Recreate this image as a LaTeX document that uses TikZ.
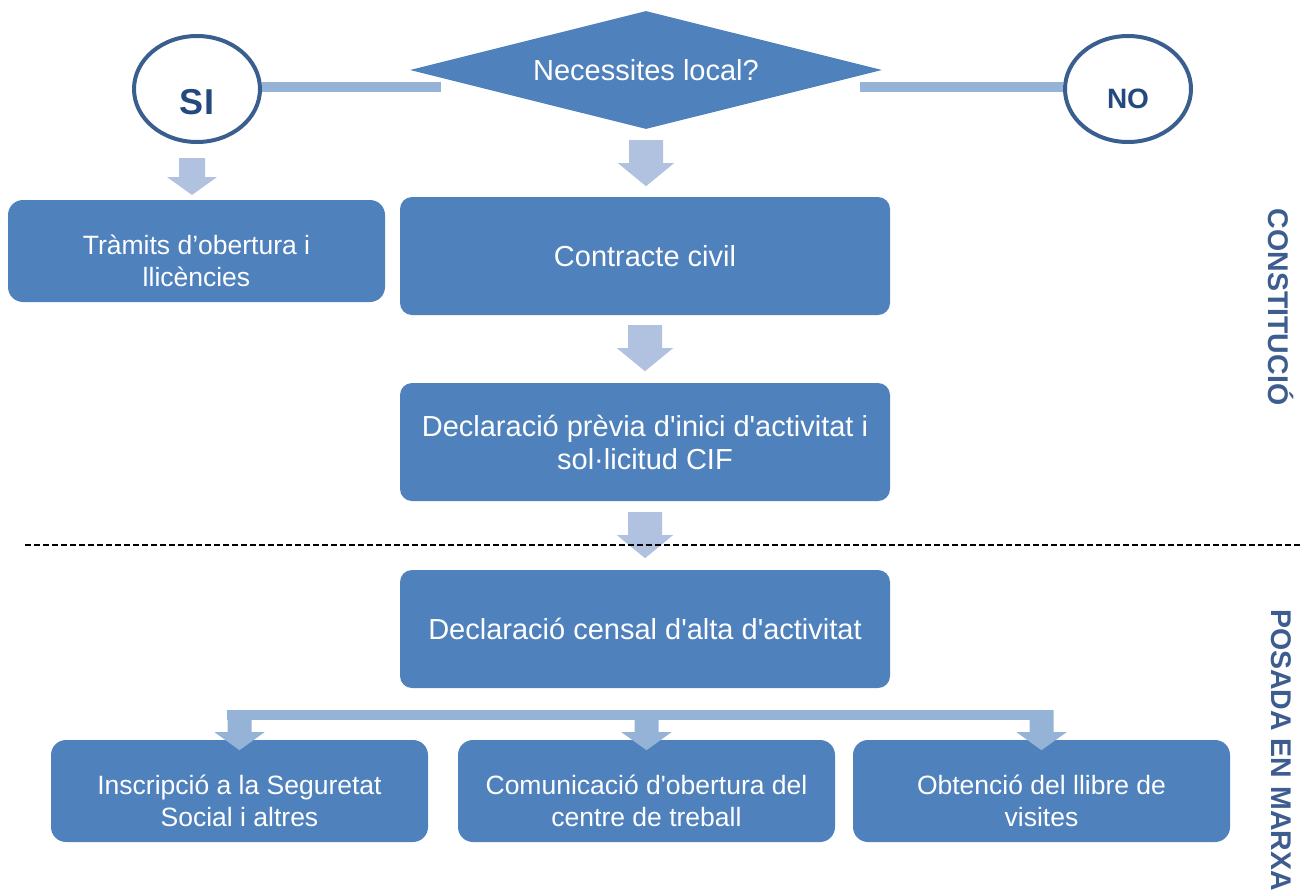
\documentclass[tikz,border=0pt]{standalone}
\usepackage{fontspec}
\setmainfont{Liberation Sans}[Ligatures=TeXOff]
\usetikzlibrary{shapes.geometric,calc}

\definecolor{boxblue}{HTML}{4F81BD}
\definecolor{barblue}{HTML}{95B3D7}
\definecolor{arrowblue}{HTML}{B0C2DF}
\definecolor{ringblue}{HTML}{3A5F8E}
\definecolor{answerblue}{HTML}{24497E}
\definecolor{labelblue}{HTML}{3D5C8F}

\tikzset{
  bigbox/.style={rectangle, rounded corners=12, fill=boxblue, text=white,
    minimum width=490, minimum height=118, align=center,
    font=\fontsize{29}{33}\selectfont},
  smallbox/.style={rectangle, rounded corners=15, fill=boxblue, text=white,
    minimum width=377, minimum height=102, align=center,
    font=\fontsize{26.5}{32}\selectfont, text height=75pt, text depth=4pt},
  question/.style={diamond, aspect=4, inner sep=0pt, fill=boxblue, text=white,
    minimum width=472, minimum height=118, font=\fontsize{29}{33}\selectfont},
  answer/.style={ellipse, draw=ringblue, line width=4, text=answerblue,
    minimum width=126, minimum height=106, text depth=0pt},
  phase/.style={rotate=-90, text=labelblue, font=\fontsize{28.5}{30}\selectfont\bfseries},
  bar/.style={draw=barblue, line width=10},
  cut/.style={dash pattern=on 6pt off 3pt, line width=1.5},
  pics/smalldown/.style={code={
    \fill[arrowblue] (-13,0) -- (13,0) -- (13,19) -- (25,19) -- (0,37) -- (-25,19) -- (-13,19) -- cycle;}},
  pics/bigdown/.style={code={
    \fill[arrowblue] (-17,0) -- (17,0) -- (17,23) -- (28,23) -- (0,46) -- (-28,23) -- (-17,23) -- cycle;}},
  pics/forkdown/.style={code={
    \fill[barblue] (-12,0) -- (12,0) -- (12,22) -- (25,22) -- (0,40) -- (-25,22) -- (-12,22) -- cycle;}}
}

\begin{document}
\begin{tikzpicture}[x=1pt,y=-1pt]
  \useasboundingbox (0,0) rectangle (1302,895);

  % question and answers
  \node[question] (ask) at (646,70) {Necessites local?};
  \node[answer, text height=50pt, font=\fontsize{36}{36}\selectfont\bfseries] (si) at (197,89) {SI};
  \node[answer, text height=38pt, font=\fontsize{28}{28}\selectfont\bfseries] (no) at (1128,89) {NO};

  % steps
  \node[smallbox] (tramits) at (196.5,251) {Tràmits d’obertura i\\llicències};
  \node[bigbox] (contracte) at (645,256) {Contracte civil};
  \node[bigbox] (previa) at (645,442) {Declaració prèvia d'inici d'activitat i\\sol·licitud CIF};
  \node[bigbox] (censal) at (645,629) {Declaració censal d'alta d'activitat};
  \node[smallbox] (inscripcio) at (239.5,791) {Inscripció a la Seguretat\\Social i altres};
  \node[smallbox] (comunicacio) at (646.5,791) {Comunicació d'obertura del\\centre de treball};
  \node[smallbox] (obtencio) at (1041.5,791) {Obtenció del llibre de\\visites};

  % phases
  \node[phase] (constitucio) at (1281,307) {CONSTITUCIÓ};
  \node[phase] (posada) at (1281,750) {POSADA EN MARXA};

  % connectors
  \coordinate (sibar) at (441,87);
  \coordinate (nobar) at (860,87);
  \draw[bar] (sibar) -- (sibar -| si.east);
  \draw[bar] (nobar) -- (nobar -| no.west);

  \pic at ($(si.south)+(-5,14)$) {smalldown};
  \pic at ($(ask.south)+(0,11)$) {bigdown};
  \pic at ($(contracte.south)+(0,10)$) {bigdown};
  \pic at ($(previa.south)+(0,11)$) {bigdown};

  \coordinate (cutl) at (25,545);
  \coordinate (cutr) at (1302,545);
  \draw[cut] (cutl) -- (cutr);

  \coordinate (fork) at ($(censal.south)+(0,22)$);
  \path (inscripcio.north |- fork) coordinate (f1)
        (comunicacio.north |- fork) coordinate (f2)
        (obtencio.north |- fork) coordinate (f3);
  \fill[barblue] ([xshift=-13pt]f1) rectangle ([xshift=8pt,yshift=-10pt]f3);
  \foreach \f in {f1,f2,f3}
    \pic at (\f) {forkdown};
\end{tikzpicture}
\end{document}
